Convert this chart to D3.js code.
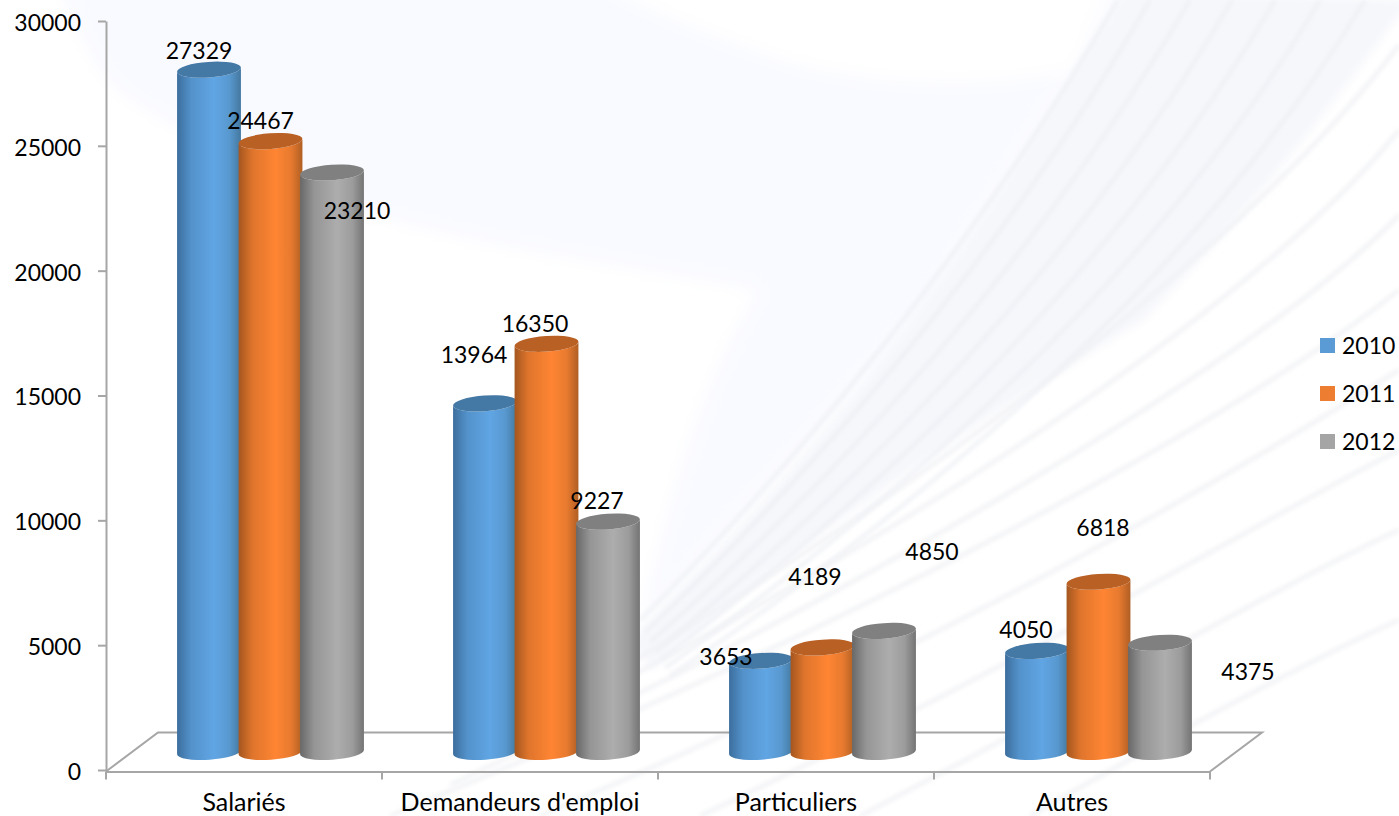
<!DOCTYPE html>
<html>
<head>
<meta charset="utf-8">
<script src="https://d3js.org/d3.v7.min.js"></script>
<style>
  html, body { margin: 0; padding: 0; background: #fff; overflow: hidden; }
  svg { display: block; }
  text { font-family: Lato, "Open Sans", sans-serif; font-size: 23px; fill: #000; }
  .axis path, .axis line { stroke: #a6a6a6; stroke-width: 2; fill: none; }
</style>
</head>
<body>
<div id="chart"></div>
<script>
// Data
var categories = ["Salariés", "Demandeurs d'emploi", "Particuliers", "Autres"];
var years = ["2010", "2011", "2012"];
var values2010 = [27329, 13964, 3653, 4050];
var values2011 = [24467, 16350, 4189, 6818];
var values2012 = [23210, 9227, 4850, 4375];
var yTicks = [0, 5000, 10000, 15000, 20000, 25000, 30000];

// The data labels sit oddly in the original, so they are nudged from the top of each cylinder
var labelDx = [[-10, -10, 25], [-11, -11.5, -11], [-35, -7.5, 48], [-11, 4.5, 88]];
var labelDy = [[-19, -20, 38.5], [-48, -20, -21], [-4, -70, -79], [-21, -54, 29]];

var seriesValues = [values2010, values2011, values2012];
var legendColors = ["#5b9bd5", "#ed7d31", "#a5a5a5"];
var bodyEdgeLeft = ["#3c6e9d", "#a4561f", "#686868"];
var bodyCenter = ["#60a5e4", "#ff8533", "#adadad"];
var bodyEdgeRight = ["#44789f", "#b05f24", "#747474"];
var topColors = ["#4478a5", "#b96024", "#808080"];

var width = 1399, height = 816;
var rx = 32, ry = 7.8, tilt = -4;
var baseLift = 18;   // the cylinders stand this far above the axis line
var floorDx = 52, floorDy = -39;

var svg = d3.select("#chart").append("svg")
  .attr("width", width)
  .attr("height", height);

var defs = svg.append("defs");

function addBlur(id, amount){
  defs.append("filter").attr("id", id)
    .attr("filterUnits", "userSpaceOnUse")
    .attr("x", -50).attr("y", -50)
    .attr("width", width + 100).attr("height", height + 100)
    .append("feGaussianBlur").attr("stdDeviation", amount);
}
addBlur("wash", 9);
addBlur("soft", 5);
addBlur("softer", 2);

years.forEach(function(year, i){
  var grad = defs.append("linearGradient").attr("id", "body" + i);
  grad.append("stop").attr("offset", "0%").attr("stop-color", bodyEdgeLeft[i]);
  grad.append("stop").attr("offset", "22%").attr("stop-color", d3.interpolateRgb(bodyEdgeLeft[i], bodyCenter[i])(0.65));
  grad.append("stop").attr("offset", "58%").attr("stop-color", bodyCenter[i]);
  grad.append("stop").attr("offset", "82%").attr("stop-color", d3.interpolateRgb(bodyEdgeRight[i], bodyCenter[i])(0.7));
  grad.append("stop").attr("offset", "100%").attr("stop-color", bodyEdgeRight[i]);
});

// Background wash
var bg = svg.append("g").attr("class", "background");

bg.append("path")
  .attr("d", "M50,-40 C80,40 95,75 130,100 C230,160 300,195 378,217 C500,250 620,265 760,290 C700,380 670,500 640,625 L925,310 L1140,-40 Z")
  .attr("fill", "#f9faff")
  .attr("filter", "url(#wash)");

bg.append("path")
  .attr("d", "M800,66 C880,85 990,90 1075,70 L1120,-40 L560,-40 C640,10 720,40 800,66 Z")
  .attr("fill", "#ffffff")
  .attr("filter", "url(#wash)");

bg.append("path")
  .attr("d", "M1125,-10 C1060,90 990,210 925,300 C840,420 740,530 630,640 L650,670 C800,540 980,420 1144,320 C1250,210 1330,110 1410,0 Z")
  .attr("fill", "#f6f7fb")
  .attr("filter", "url(#soft)");

var bandStreaks = [
  "M1118,0 C1020,170 860,400 640,620",
  "M1150,0 C1050,175 885,405 645,632",
  "M1190,0 C1085,180 915,410 650,642",
  "M1232,0 C1125,185 945,415 655,652",
  "M1275,0 C1165,190 975,420 660,660",
  "M1320,0 C1205,195 1005,425 665,668",
  "M1365,0 C1245,200 1035,430 670,676"
];
var lowStreaks = [
  "M1399,45 C1260,230 960,470 560,705",
  "M1399,130 C1280,280 960,510 500,745",
  "M1399,215 C1290,330 960,545 450,785",
  "M1399,290 C1260,400 940,590 390,816",
  "M1399,370 C1270,450 980,630 540,816",
  "M1399,450 C1280,510 1030,660 700,816",
  "M1399,530 C1290,580 1100,690 860,816",
  "M1399,620 C1310,660 1180,730 1030,816"
];

bg.selectAll(".band-streak").data(bandStreaks).enter().append("path")
  .attr("class", "band-streak")
  .attr("d", function(d){ return d; })
  .attr("fill", "none")
  .attr("stroke", "#eceef3")
  .attr("stroke-width", 3)
  .attr("filter", "url(#softer)");

bg.selectAll(".low-streak").data(lowStreaks).enter().append("path")
  .attr("class", "low-streak")
  .attr("d", function(d){ return d; })
  .attr("fill", "none")
  .attr("stroke", "#f1f2f5")
  .attr("stroke-width", 4)
  .attr("filter", "url(#softer)");

// Scales
var x0 = d3.scaleBand().domain(categories).range([106, 1210]);
var x1 = d3.scaleBand().domain(years).range([71, 255.5]);
var y = d3.scaleLinear().domain([0, 30000]).range([770, 21]);

// Back edges of the 3D floor
var floorY = y(0) + 1.5;
var floor = d3.path();
floor.moveTo(x0.range()[0], floorY);
floor.lineTo(x0.range()[0] + floorDx, floorY + floorDy);
floor.lineTo(x0.range()[1] + floorDx, floorY + floorDy);
floor.lineTo(x0.range()[1], floorY);
svg.append("path")
  .attr("d", floor.toString())
  .attr("fill", "none")
  .attr("stroke", "#a6a6a6")
  .attr("stroke-width", 2);

// Axes
var yAxis = d3.axisLeft(y).tickValues(yTicks).tickFormat(d3.format("d"))
  .tickSize(8).tickSizeOuter(0).tickPadding(17);
var xAxis = d3.axisBottom(x0).tickSize(8).tickSizeOuter(0).tickPadding(14);

var yG = svg.append("g")
  .attr("class", "axis y-axis")
  .attr("transform", "translate(106,0)")
  .call(yAxis);

yG.selectAll(".tick text")
  .attr("y", 2)
  .style("font-size", "23px")
  .style("font-family", 'Lato, "Open Sans", sans-serif');

var xG = svg.append("g")
  .attr("class", "axis x-axis")
  .attr("transform", "translate(0," + floorY + ")")
  .call(xAxis);

xG.selectAll(".tick text")
  .style("font-size", "25px")
  .style("font-family", 'Lato, "Open Sans", sans-serif');

// band-centred default ticks are replaced by ticks on the band edges
xG.selectAll(".tick line")
  .attr("x1", -x0.bandwidth() / 2)
  .attr("x2", -x0.bandwidth() / 2);
xG.append("line")
  .attr("x1", x0.range()[1]).attr("x2", x0.range()[1])
  .attr("y1", 0).attr("y2", 8)
  .attr("stroke", "#a6a6a6").attr("stroke-width", 2);

// Cylinders
function barCx(c, s){
  return x0(categories[c]) + x1(years[s]) + 32;
}
function barTop(c, s){
  return y(seriesValues[s][c]) - baseLift;
}

var rad = tilt * Math.PI / 180;
var ex = rx * Math.cos(rad), ey = rx * Math.sin(rad);

categories.forEach(function(cat, c){
  years.forEach(function(year, s){
    var cx = barCx(c, s), top = barTop(c, s), bottom = y(0) - baseLift;
    var arc = "A" + rx + "," + ry + " " + tilt + " 0 ";

    svg.append("path")
      .attr("class", "cyl-body")
      .attr("d", "M" + (cx - ex) + "," + (top - ey)
        + "L" + (cx - ex) + "," + (bottom - ey)
        + arc + "0 " + (cx + ex) + "," + (bottom + ey)
        + "L" + (cx + ex) + "," + (top + ey)
        + arc + "1 " + (cx - ex) + "," + (top - ey) + "Z")
      .attr("fill", "url(#body" + s + ")");

    svg.append("ellipse")
      .attr("class", "cyl-top")
      .attr("cx", cx).attr("cy", top)
      .attr("rx", rx).attr("ry", ry)
      .attr("transform", "rotate(" + tilt + " " + cx + " " + top + ")")
      .attr("fill", topColors[s]);
  });
});

// Data labels go on after all the bars, they overlap them in places
categories.forEach(function(cat, c){
  years.forEach(function(year, s){
    svg.append("text")
      .attr("class", "data-label")
      .attr("x", barCx(c, s) + labelDx[c][s])
      .attr("y", barTop(c, s) + labelDy[c][s])
      .attr("dy", "0.35em")
      .attr("text-anchor", "middle")
      .text(seriesValues[s][c]);
  });
});

// Legend
var legendY = d3.scalePoint().domain(years).range([345.5, 441.5]);
var legend = svg.selectAll(".legend").data(years).enter().append("g")
  .attr("class", "legend")
  .attr("transform", function(d){ return "translate(1320," + legendY(d) + ")"; });

legend.append("rect")
  .attr("y", -7.5)
  .attr("width", 15)
  .attr("height", 15)
  .attr("fill", function(d, i){ return legendColors[i]; });

legend.append("text")
  .attr("x", 22)
  .attr("dy", "0.35em")
  .text(function(d){ return d; });
</script>
</body>
</html>
